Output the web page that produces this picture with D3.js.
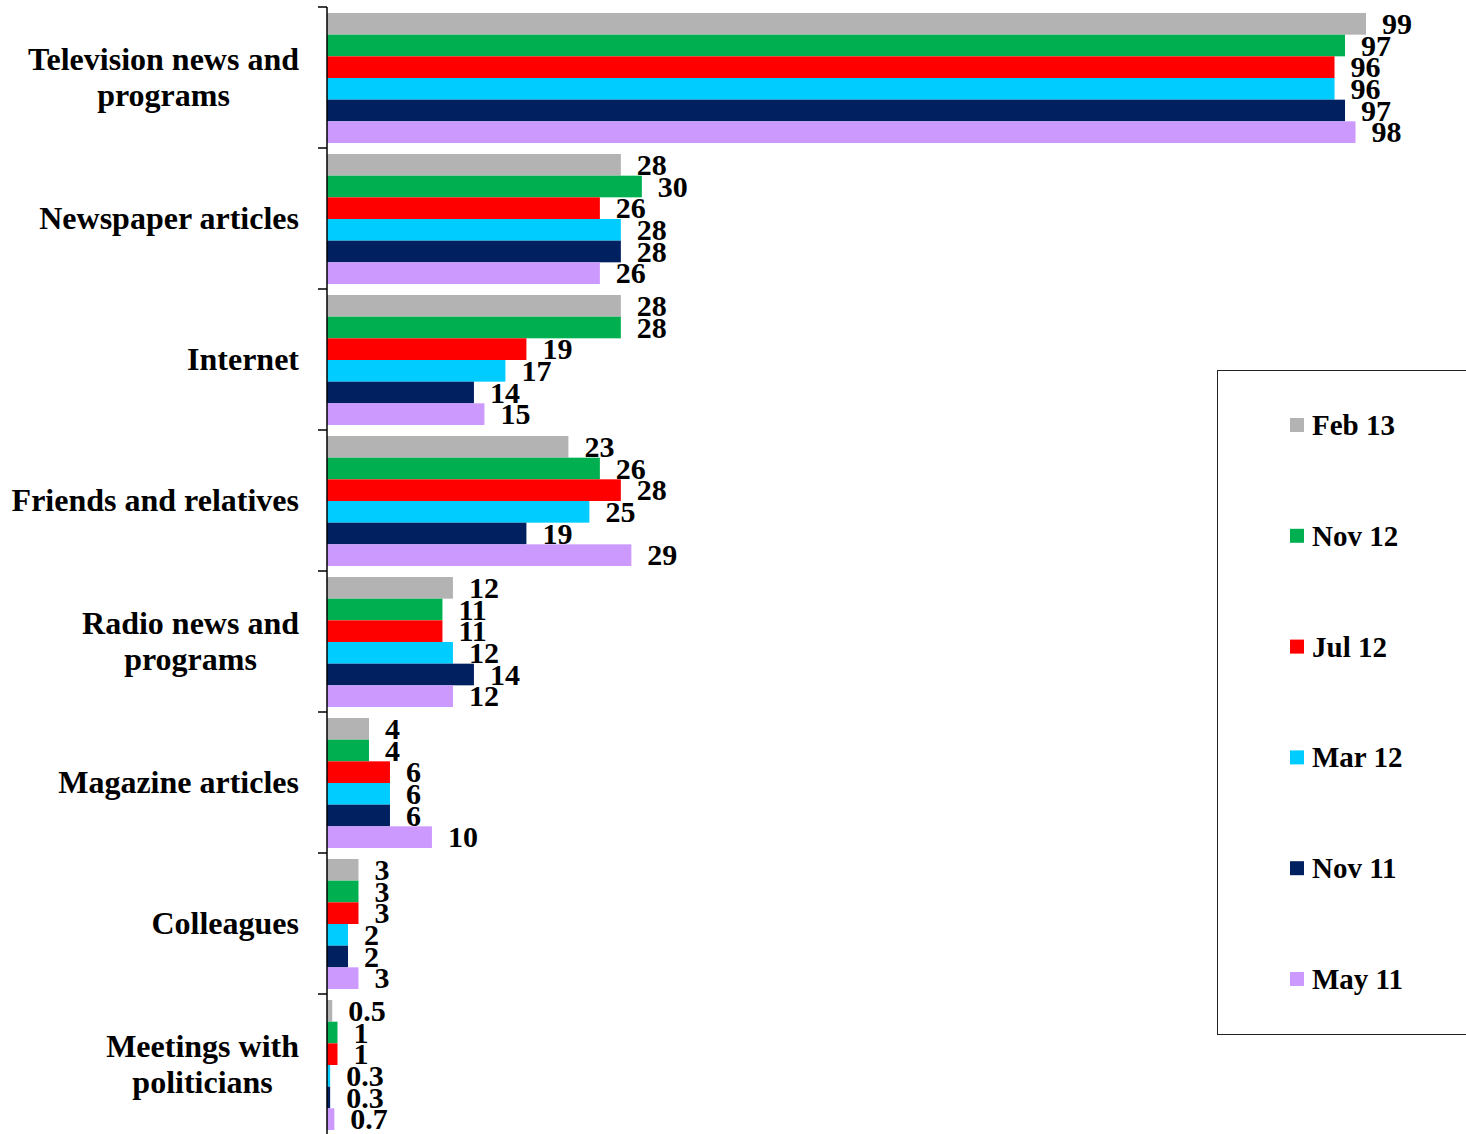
<!DOCTYPE html>
<html>
<head>
<meta charset="utf-8">
<script src="https://cdn.jsdelivr.net/npm/d3@7"></script>
<style>
  body { margin: 0; background: #fff; }
  svg text { font-family: "Liberation Serif", "Times New Roman", serif; font-weight: bold; fill: #000; }
</style>
</head>
<body>
<svg width="1466" height="1134"></svg>
<script>
var svg = d3.select("svg"),
    width = +svg.attr("width"),
    height = +svg.attr("height");

// categories (top to bottom), label lines
var categories = [
  ["Television news and", "programs"],
  ["Newspaper articles"],
  ["Internet"],
  ["Friends and relatives"],
  ["Radio news and", "programs"],
  ["Magazine articles"],
  ["Colleagues"],
  ["Meetings with", "politicians"]
];

var seriesNames = ["Feb 13", "Nov 12", "Jul 12", "Mar 12", "Nov 11", "May 11"];
var seriesColors = ["#b3b3b3", "#00b050", "#ff0000", "#00ccff", "#002060", "#cc99ff"];

// values per series, in category order
var feb13 = [99, 28, 28, 23, 12, 4, 3, 0.5];
var nov12 = [97, 30, 28, 26, 11, 4, 3, 1];
var jul12 = [96, 26, 19, 28, 11, 6, 3, 1];
var mar12 = [96, 28, 17, 25, 12, 6, 2, 0.3];
var nov11 = [97, 28, 14, 19, 14, 6, 2, 0.3];
var may11 = [98, 26, 15, 29, 12, 10, 3, 0.7];

var seriesValues = [feb13, nov12, jul12, mar12, nov11, may11];

var catKeys = categories.map(function(d, i) { return i; });

// scales
var x = d3.scaleLinear().domain([0, 100]).range([327, 1376.5]);

var y0 = d3.scaleBand()
    .domain(catKeys)
    .range([7, 7 + 141 * 8]);

var y1 = d3.scaleBand()
    .domain(seriesNames)
    .range([6, 136]);

// bars
var groups = svg.append("g").selectAll("g")
  .data(catKeys)
  .enter().append("g")
    .attr("transform", function(c) { return "translate(0," + y0(c) + ")"; });

groups.selectAll("rect")
  .data(function(c) {
    return seriesNames.map(function(s, i) { return { s: s, i: i, v: seriesValues[i][c] }; });
  })
  .enter().append("rect")
    .attr("x", x(0))
    .attr("y", function(d) { return y1(d.s); })
    .attr("width", function(d) { return x(d.v) - x(0); })
    .attr("height", y1.bandwidth())
    .attr("fill", function(d) { return seriesColors[d.i]; });

// value labels
groups.selectAll("text.val")
  .data(function(c) {
    return seriesNames.map(function(s, i) { return { s: s, i: i, v: seriesValues[i][c] }; });
  })
  .enter().append("text")
    .attr("class", "val")
    .attr("x", function(d) { return x(d.v) + 16; })
    .attr("y", function(d) { return y1(d.s) + y1.bandwidth() / 2 + 10; })
    .attr("font-size", 30)
    .text(function(d) { return d.v; });

// axis line and boundary ticks
var axis = svg.append("g");
axis.append("line")
    .attr("x1", x(0)).attr("x2", x(0))
    .attr("y1", 7).attr("y2", height)
    .attr("stroke", "#000").attr("stroke-width", 1.5);

axis.selectAll("line.tick")
  .data(catKeys)
  .enter().append("line")
    .attr("class", "tick")
    .attr("x1", x(0) - 9).attr("x2", x(0))
    .attr("y1", function(c) { return y0(c); })
    .attr("y2", function(c) { return y0(c); })
    .attr("stroke", "#000").attr("stroke-width", 1.5);

// category labels, centred block with right edge at 299
var labelRight = 299;
var catLabels = svg.append("g").selectAll("text")
  .data(catKeys)
  .enter().append("text")
    .attr("font-size", 32)
    .attr("text-anchor", "middle");

catLabels.each(function(c) {
  var t = d3.select(this);
  var lines = categories[c];
  var cy = y0(c) + y0.bandwidth() / 2;
  var lh = 36;
  lines.forEach(function(line, k) {
    t.append("tspan")
      .attr("y", cy + (k - (lines.length - 1) / 2) * lh + 10)
      .text(line);
  });
  var w = d3.max(t.selectAll("tspan").nodes(), function(n) { return n.getComputedTextLength(); });
  t.selectAll("tspan").attr("x", labelRight - w / 2);
});

// legend
var legend = svg.append("g");
legend.append("rect")
    .attr("x", 1217.5).attr("y", 370.5)
    .attr("width", 300).attr("height", 664)
    .attr("fill", "none")
    .attr("stroke", "#222").attr("stroke-width", 1);

var legItems = legend.selectAll("g.item")
  .data(seriesNames)
  .enter().append("g")
    .attr("class", "item")
    .attr("transform", function(d, i) { return "translate(1290," + (425 + i * 110.8) + ")"; });

legItems.append("rect")
    .attr("x", 0).attr("y", -7)
    .attr("width", 14).attr("height", 14)
    .attr("fill", function(d, i) { return seriesColors[i]; });

legItems.append("text")
    .attr("x", 22).attr("y", 10)
    .attr("font-size", 29)
    .text(function(d) { return d; });
</script>
</body>
</html>
